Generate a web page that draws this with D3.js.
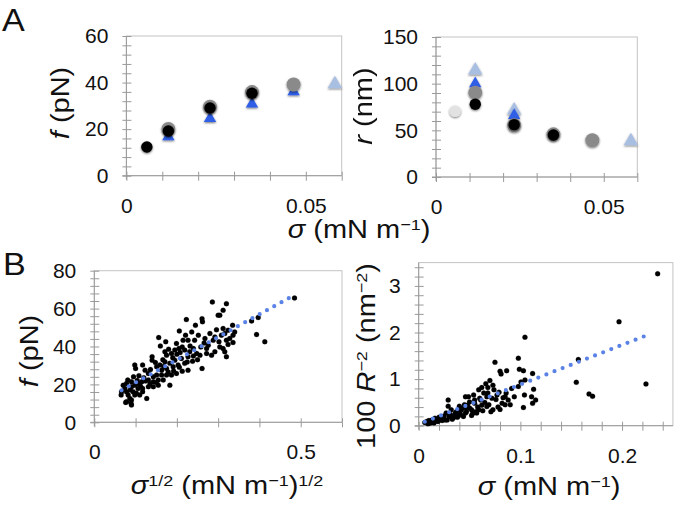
<!DOCTYPE html>
<html><head><meta charset="utf-8">
<script src="https://cdn.jsdelivr.net/npm/d3@7"></script>
<style>
html,body{margin:0;padding:0;background:#fff;}
svg{display:block;font-family:"Liberation Sans",Arial,Helvetica,sans-serif;}
</style></head>
<body><svg id="c" width="677" height="505"></svg>
<script>
// ---------------- DATA ----------------
// Panel A, left: force f (pN) vs sigma (mN/m)
const aBlackF = [[0.0057,12.3],[0.0117,19.2],[0.0233,29.1],[0.0350,35.4]];
const aGrayF = [[0.0117,20.1],[0.0233,29.6],[0.0350,35.9],[0.0466,39.2]];
const aBlueF = [[0.0117,16.8],[0.0233,24.6],[0.0350,30.8],[0.0466,36.1]];
const aLightBlueF = [[0.0581,39.3]];
// Panel A, right: radius r (nm) vs sigma
const aLightGrayR = [[0.0057,70.4]];
const aLightBlueR = [[0.0117,114.3],[0.0233,71.5],[0.0581,38.6]];
const aBlueR = [[0.0117,100],[0.0233,66]];
const aGrayR = [[0.0117,90.4],[0.0233,55.5],[0.0350,45.7],[0.0466,39.3]];
const aBlackR = [[0.0117,77.9],[0.0233,56.1],[0.0350,45.0]];
// Panel B, left: f (pN) vs sigma^1/2
const bLeftPts = [
[0.286,63.5],[0.312,59.1],[0.300,56.5],[0.261,54.7],[0.262,53.0],[0.223,54.2],[0.245,51.2],[0.206,48.2],
[0.236,47.7],[0.221,46.0],[0.252,46.0],[0.156,44.7],[0.215,43.3],[0.227,43.3],[0.243,43.3],[0.173,42.5],
[0.199,41.6],[0.268,44.2],[0.276,40.7],[0.288,43.3],[0.302,42.5],[0.312,38.9],[0.292,37.2],[0.272,36.3],
[0.284,35.4],[0.160,40.2],[0.140,34.6],[0.140,32.8],[0.171,37.2],[0.175,35.4],[0.187,36.3],[0.195,38.1],
[0.205,38.9],[0.213,39.8],[0.219,38.1],[0.231,37.2],[0.240,38.9],[0.248,36.3],[0.256,35.4],[0.227,34.6],
[0.211,33.7],[0.195,32.8],[0.183,31.1],[0.171,31.9],[0.159,30.2],[0.151,29.3],[0.163,27.5],[0.175,28.4],
[0.191,29.3],[0.203,30.2],[0.219,31.1],[0.227,27.5],[0.213,27.0],[0.199,25.8],[0.187,24.9],[0.175,24.9],
[0.163,24.9],[0.151,24.9],[0.143,24.0],[0.131,25.8],[0.123,27.5],[0.117,30.2],[0.098,30.2],[0.100,28.4],
[0.131,22.3],[0.143,21.4],[0.155,22.3],[0.167,22.3],[0.183,19.6],[0.115,21.4],[0.106,20.5],[0.098,19.6],
[0.090,21.4],[0.081,22.3],[0.078,20.5],[0.090,18.8],[0.106,17.9],[0.117,17.9],[0.131,18.8],[0.143,18.8],
[0.155,19.6],[0.094,16.1],[0.102,15.3],[0.110,14.4],[0.117,16.1],[0.127,12.6],[0.086,12.6],[0.082,14.4],
[0.074,17.9],[0.070,19.6],[0.078,10.9],[0.090,11.8],[0.098,14.4],[0.089,10.0],[0.078,16.1],[0.066,16.1],
[0.065,14.4],[0.076,10.5],[0.090,9.1],[0.320,62.6],[0.304,56.5],[0.335,51.2],[0.312,49.5],[0.324,48.6],
[0.340,47.7],[0.316,46.8],[0.336,46.0],[0.308,46.0],[0.328,44.2],[0.320,43.3],[0.336,42.1],[0.324,41.1],
[0.316,37.2],[0.320,34.6],[0.381,53.5],[0.397,55.3],[0.393,46.3],[0.413,42.5],[0.485,65.6],[0.261,28.4],
[0.120,23.5],[0.108,24.6],[0.136,27.9],[0.148,31.5],[0.166,33.0],[0.180,38.6],[0.190,34.0],[0.200,35.9],
[0.208,36.8],[0.232,40.2],[0.258,39.8],[0.266,41.8],[0.280,46.9],[0.296,48.8],[0.250,33.0],[0.238,32.2],
[0.135,20.4],[0.150,21.0],[0.112,19.0],[0.124,21.8],[0.095,24.0],[0.087,17.0],[0.104,22.0],[0.168,29.5],
[0.179,26.6],[0.192,27.1],[0.206,29.0],[0.225,31.8],[0.240,35.0],[0.272,39.0],[0.292,45.0],[0.304,39.8]
];
const bLeftFit = [[0.066,16.9],[0.482,66.8]];
// Panel B, right: 100 R^-2 (nm^-2) vs sigma
const bRightPts = [
[0.1045,1.90],[0.075,1.36],[0.098,1.45],[0.080,1.17],[0.081,1.11],[0.0865,1.18],[0.099,1.21],[0.103,1.18],
[0.112,1.12],[0.1045,0.98],[0.1006,0.94],[0.098,0.84],[0.0914,0.80],[0.113,0.78],[0.104,0.66],[0.111,0.62],
[0.115,0.55],[0.112,0.48],[0.103,0.39],[0.070,0.97],[0.073,0.87],[0.068,0.82],[0.074,0.77],[0.077,0.66],
[0.072,0.59],[0.083,0.60],[0.085,0.62],[0.085,0.45],[0.073,0.34],[0.062,0.82],[0.059,0.77],[0.064,0.70],
[0.067,0.62],[0.060,0.59],[0.054,0.66],[0.049,0.62],[0.046,0.62],[0.050,0.51],[0.055,0.48],[0.062,0.44],
[0.067,0.41],[0.059,0.34],[0.052,0.34],[0.047,0.37],[0.046,0.27],[0.042,0.34],[0.039,0.34],[0.036,0.27],
[0.029,0.55],[0.029,0.42],[0.032,0.34],[0.027,0.27],[0.024,0.19],[0.021,0.16],[0.016,0.16],[0.013,0.12],
[0.010,0.11],[0.006,0.07],[0.019,0.09],[0.026,0.12],[0.035,0.22],[0.038,0.18],[0.041,0.25],[0.044,0.20],
[0.047,0.30],[0.033,0.14],[0.030,0.20],[0.028,0.12],[0.022,0.14],[0.018,0.10],[0.015,0.06],[0.012,0.08],
[0.011,0.05],[0.009,0.04],[0.017,0.13],[0.024,0.16],[0.031,0.24],[0.037,0.30],[0.043,0.38],[0.048,0.44],
[0.052,0.22],[0.056,0.30],[0.058,0.40],[0.061,0.55],[0.065,0.50],[0.069,0.45],[0.071,0.30],[0.078,0.40],
[0.082,0.48],[0.088,0.55],[0.090,0.45],[0.094,0.62],[0.057,0.27],[0.063,0.32],[0.050,0.38],[0.045,0.45],
[0.040,0.42],[0.055,0.55],[0.068,0.70],[0.066,0.90],[0.076,0.56],[0.080,0.35],[0.079,0.72],[0.086,0.70],
[0.008,0.09],[0.014,0.10],[0.020,0.18],[0.023,0.11],[0.025,0.21],[0.034,0.17],[0.039,0.21],[0.053,0.26],
[0.235,3.26],[0.197,2.23],[0.157,1.42],[0.155,0.93],[0.1675,0.68],[0.171,0.63],[0.2235,0.895]
];
const bRightFit = [[0.006,0.085],[0.229,1.98]];

// ---------------- DRAW ----------------
const svg = d3.select('#c');
const defs = svg.append('defs');
const f = defs.append('filter').attr('id','sh').attr('x','-50%').attr('y','-50%').attr('width','200%').attr('height','200%');
f.append('feDropShadow').attr('dx',0).attr('dy',1).attr('stdDeviation',1.2).attr('flood-color','#000').attr('flood-opacity',0.55);

const axisCol = '#9a9a9a', frameCol = '#c4c4c4';
const TICKFS = 21;

function panel(o){
  const x = d3.scaleLinear().domain(o.xd).range([o.l,o.r]);
  const y = d3.scaleLinear().domain(o.yd).range([o.b,o.t]);
  const g = svg.append('g');
  g.append('rect').attr('x',o.l).attr('y',o.t).attr('width',o.r-o.l).attr('height',o.b-o.t)
   .attr('fill','none').attr('stroke',frameCol).attr('stroke-width',1);
  const yt = d3.range(o.yd[0], o.yd[1]+1e-9, o.yMinor);
  const xt = d3.range(o.xd[0], o.xd[1]+1e-9, o.xMinor);
  function styleAx(s){ s.select('.domain').remove(); s.selectAll('text').remove(); s.selectAll('line').attr('stroke',axisCol); }
  g.append('g').attr('transform',`translate(${o.l},0)`).call(d3.axisLeft(y).tickValues(yt).tickSize(4)).call(styleAx);
  g.append('g').attr('transform',`translate(${o.l},0)`).call(d3.axisRight(y).tickValues(yt).tickSize(5)).call(styleAx);
  g.append('g').attr('transform',`translate(0,${o.b})`).call(d3.axisBottom(x).tickValues(xt).tickSize(5)).call(styleAx);
  g.append('g').attr('transform',`translate(0,${o.b})`).call(d3.axisTop(x).tickValues(xt).tickSize(4)).call(styleAx);
  g.append('line').attr('x1',o.l).attr('x2',o.l).attr('y1',o.t).attr('y2',o.b+4).attr('stroke',axisCol);
  g.append('line').attr('x1',o.l-4).attr('x2',o.r).attr('y1',o.b).attr('y2',o.b).attr('stroke',axisCol);
  const yl = g.append('g').attr('transform',`translate(${o.l},0)`)
    .call(d3.axisLeft(y).tickValues(o.yLabels).tickSize(0).tickPadding(18).tickFormat(d3.format(o.yFmt||'')));
  yl.select('.domain').remove();
  yl.selectAll('text').attr('font-size',TICKFS).attr('fill','#111').attr('font-family','"Liberation Sans",Arial,sans-serif');
  const xl = g.append('g').attr('transform',`translate(0,${o.b})`)
    .call(d3.axisBottom(x).tickValues(o.xLabels).tickSize(0).tickPadding(22).tickFormat(o.xFmt));
  xl.select('.domain').remove();
  xl.selectAll('text').attr('font-size',TICKFS).attr('fill','#111').attr('font-family','"Liberation Sans",Arial,sans-serif');
  return {x,y,g};
}

const fmtX = d => d===0 ? '0' : String(d);

const pA1 = panel({l:126.4,r:341.7,t:36,b:175.7,xd:[0,0.06],yd:[0,60],xMinor:0.01,yMinor:4,
  yLabels:[0,20,40,60],xLabels:[0,0.05],xFmt:fmtX});
const pA2 = panel({l:436,r:637.3,t:37,b:177,xd:[0,0.06],yd:[0,150],xMinor:0.01,yMinor:10,
  yLabels:[0,50,100,150],xLabels:[0,0.05],xFmt:fmtX});
const pB1 = panel({l:94.3,r:342,t:270.7,b:422.3,xd:[0,0.6],yd:[0,80],xMinor:0.1,yMinor:4,
  yLabels:[0,20,40,60,80],xLabels:[0,0.5],xFmt:fmtX});
const pB2 = panel({l:418.7,r:672.9,t:262.6,b:425.7,xd:[0,0.25],yd:[0,3.5],xMinor:0.02,yMinor:0.2,
  yLabels:[0,1,2,3],xLabels:[0,0.1,0.2],xFmt:fmtX});

function circles(p, data, r, fill){
  p.g.append('g').attr('filter','url(#sh)').selectAll('circle').data(data).join('circle')
   .attr('cx',d=>p.x(d[0])).attr('cy',d=>p.y(d[1])).attr('r',r).attr('fill',fill);
}
function tris(p, data, size, fill){
  p.g.append('g').attr('filter','url(#sh)').selectAll('path').data(data).join('path')
   .attr('d', d3.symbol(d3.symbolTriangle, size)())
   .attr('transform',d=>`translate(${p.x(d[0])},${p.y(d[1])})`).attr('fill',fill);
}
const cLightBlue='#a9bfe2', cBlue='#2f5ee6', cGray='#8a8a8a', cBlack='#000', cLightGray='#e2e2e2';
tris(pA1, aLightBlueF, 90, cLightBlue);
tris(pA1, aBlueF, 66, cBlue);
circles(pA1, aGrayF, 7, cGray);
circles(pA1, aBlackF, 5.7, cBlack);
circles(pA2, aLightGrayR, 5.7, cLightGray);
tris(pA2, aLightBlueR, 90, cLightBlue);
tris(pA2, aBlueR, 66, cBlue);
circles(pA2, aGrayR, 7, cGray);
circles(pA2, aBlackR, 5.7, cBlack);

function scatter(p, data){
  p.g.append('g').selectAll('circle').data(data).join('circle')
   .attr('cx',d=>p.x(d[0])).attr('cy',d=>p.y(d[1])).attr('r',2.5).attr('fill','#000')
   .attr('stroke','rgba(0,0,0,0.25)').attr('stroke-width',0.8);
}
function fit(p, data, gap){
  p.g.append('path').datum(data)
   .attr('d', d3.line().x(d=>p.x(d[0])).y(d=>p.y(d[1])))
   .attr('fill','none').attr('stroke','#5b83e6').attr('stroke-width',4.2)
   .attr('stroke-linecap','round').attr('stroke-dasharray',`0 ${gap}`);
}
scatter(pB1, bLeftPts); fit(pB1, bLeftFit, 8.3);
scatter(pB2, bRightPts); fit(pB2, bRightFit, 8.7);

// ---------------- TEXT ----------------
const FS = 25, SX = 1.16;
function title(x, y, rot, parts){
  const t = svg.append('text').attr('transform',`translate(${x},${y}) rotate(${rot}) scale(${SX},1)`)
    .attr('text-anchor','middle').attr('font-size',FS).attr('fill','#111');
  parts.forEach(p=>{
    const s = t.append('tspan').text(p.t);
    if(p.i) s.attr('font-style','italic');
    if(p.sup){ s.attr('font-size',FS*0.62).attr('baseline-shift','super'); }
  });
  return t;
}
svg.append('text').attr('transform','translate(2,31) scale(1.1,1)').attr('font-size',31).attr('fill','#111').text('A');
svg.append('text').attr('transform','translate(3,275) scale(1.1,1)').attr('font-size',31).attr('fill','#111').text('B');

title(69, 103, -90, [{t:'f',i:1},{t:' (pN)'}]);
title(372, 106, -90, [{t:'r',i:1},{t:' (nm)'}]);
title(359, 238, 0, [{t:'σ',i:1},{t:' (mN m'},{t:'−1',sup:1},{t:')'}]);
title(38, 351, -90, [{t:'f',i:1},{t:' (pN)'}]);
title(227, 494, 0, [{t:'σ',i:1},{t:'1/2',sup:1},{t:' (mN m'},{t:'−1',sup:1},{t:')'},{t:'1/2',sup:1}]);
title(375, 356, -90, [{t:'100 '},{t:'R',i:1},{t:'−2',sup:1},{t:' (nm'},{t:'−2',sup:1},{t:')'}]);
title(549, 495, 0, [{t:'σ',i:1},{t:' (mN m'},{t:'−1',sup:1},{t:')'}]);
</script></body></html>
